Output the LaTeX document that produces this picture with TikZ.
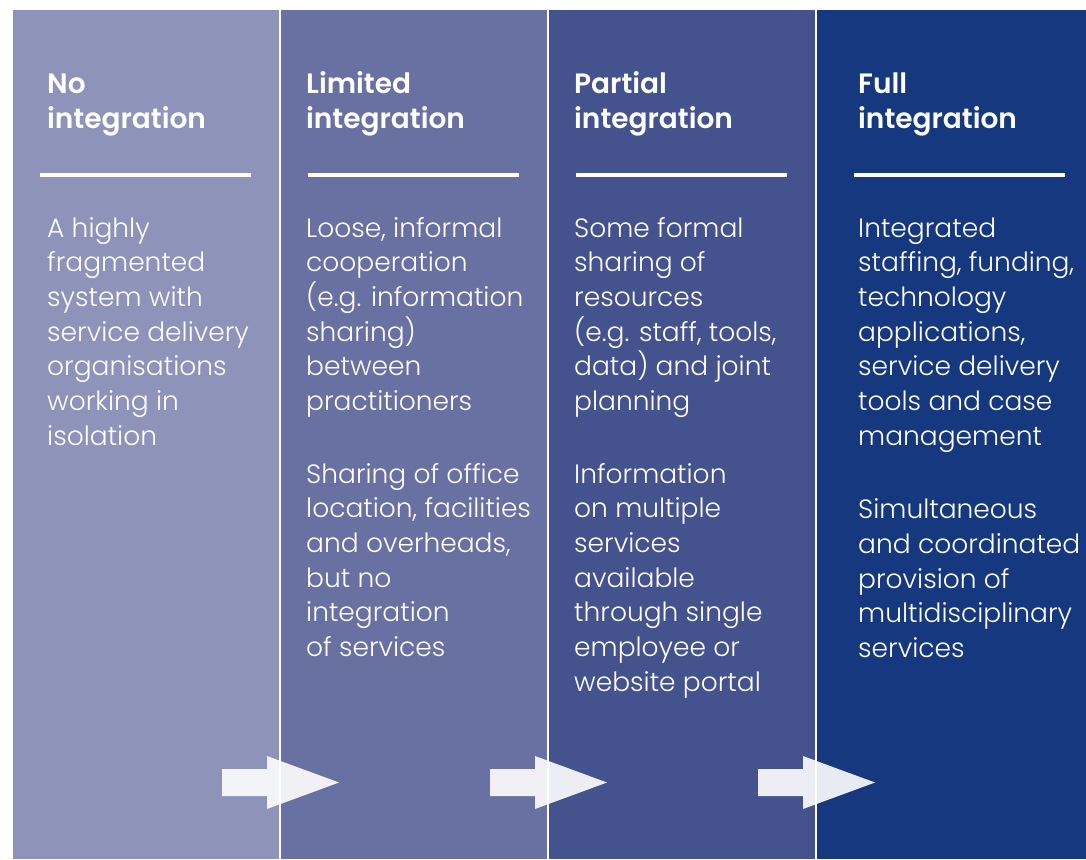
\documentclass[tikz,border=0pt]{standalone}
\usepackage{fontspec}
\setmainfont{Poppins}
\IfFontExistsTF{Poppins Light}{\newfontfamily\bodyfont{Poppins Light}}{\newfontfamily\bodyfont{Poppins}}
\IfFontExistsTF{Poppins SemiBold}{\newfontfamily\headfont{Poppins SemiBold}}{\newfontfamily\headfontfam{Poppins}\newcommand\headfont{\headfontfam\bfseries}}
\definecolor{colA}{RGB}{142,147,186}
\definecolor{colB}{RGB}{105,112,162}
\definecolor{colC}{RGB}{68,82,142}
\definecolor{colD}{RGB}{21,56,126}
\tikzset{
  body/.style={anchor=base west, inner sep=0pt, text=white, font=\bodyfont\fontsize{26.5}{34.7}\selectfont},
  headline/.style={anchor=base west, inner sep=0pt, text=white, font=\headfont\fontsize{28}{35}\selectfont},
  rulebar/.style={draw=white, line width=4pt},
  arrowshape/.style={fill=white, fill opacity=0.9},
}
\newcommand\plines[4]{\foreach \t [count=\i from 0] in {#4} {\node[body] (#1-\i) at (#2,{#3+34.7*\i}) {\t};}}
\newcommand\bigarrow[1]{\fill[arrowshape] (#1,769) -- ++(45,0) -- ++(0,-13) -- ++(72,26.5) -- ++(-72,26.5) -- ++(0,-13) -- ++(-45,0) -- cycle;}
\begin{document}
\begin{tikzpicture}[x=1pt,y=-1pt]
\useasboundingbox (0,0) rectangle (1086,859);
\fill[white] (0,0) rectangle (1086,859);
% columns
\fill[colA] (13,10) rectangle (279,859);
\fill[colB] (281,10) rectangle (547,859);
\fill[colC] (549,10) rectangle (815,859);
\fill[colD] (817,10) rectangle (1086,859);
% titles
\node[headline] (t1a) at (47,93) {No};
\node[headline] (t1b) at (47,128) {integration};
\node[headline] (t2a) at (306,93) {Limited};
\node[headline] (t2b) at (306,128) {integration};
\node[headline] (t3a) at (574,93) {Partial};
\node[headline] (t3b) at (574,128) {integration};
\node[headline] (t4a) at (858,93) {Full};
\node[headline] (t4b) at (858,128) {integration};
% rules
\draw[rulebar] (40,174.5) -- (251,174.5);
\draw[rulebar] (308,174.5) -- (519,174.5);
\draw[rulebar] (576,174.5) -- (787,174.5);
\draw[rulebar] (854,174.5) -- (1065,174.5);
% body text
\plines{a}{47}{237}{{A highly},{fragmented},{system with},{service delivery},{organisations},{working in},{isolation}}
\plines{b}{306}{237}{{Loose, informal},{cooperation},{(e.g. information},{sharing)},{between},{practitioners}}
\plines{bb}{306}{483}{{Sharing of office},{location, facilities},{and overheads,},{but no},{integration},{of services}}
\plines{c}{574}{237}{{Some formal},{sharing of},{resources},{(e.g. staff, tools,},{data) and joint},{planning}}
\plines{cc}{574}{483}{{Information},{on multiple},{services},{available},{through single},{employee or},{website portal}}
\plines{d}{858}{237}{{Integrated},{staffing, funding,},{technology},{applications,},{service delivery},{tools and case},{management}}
\plines{dd}{858}{518.6}{{Simultaneous},{and coordinated},{provision of},{multidisciplinary},{services}}
% arrows
\bigarrow{222}
\bigarrow{490}
\bigarrow{758}
\end{tikzpicture}
\end{document}
